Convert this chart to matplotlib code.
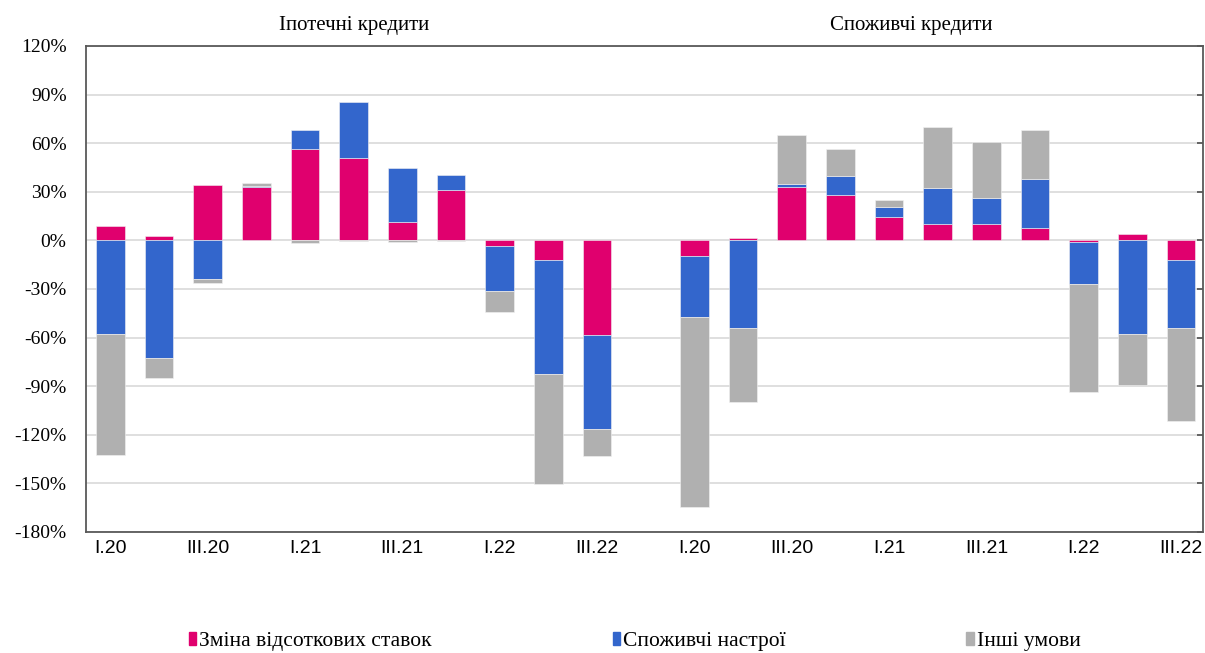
import matplotlib
matplotlib.use("Agg")
import matplotlib.pyplot as plt
from matplotlib.patches import Patch
import numpy as np

plt.rcParams['font.family'] = ['Liberation Serif', 'DejaVu Serif']

quarters = ['I.20', 'II.20', 'III.20', 'IV.20', 'I.21', 'II.21', 'III.21', 'IV.21',
            'I.22', 'II.22', 'III.22']
panel_titles = ['Іпотечні кредити', 'Споживчі кредити']
series_names = ['Зміна відсоткових ставок', 'Споживчі настрої', 'Інші умови']
colors = ['#E0006E', '#3366CC', '#B0B0B0']

# mortgage loans, %
mortgage_rate = [9.0, 3.0, 34.0, 32.7, 56.2, 50.7, 11.5, 30.9, -3.7, -11.9, -58.5]
mortgage_mood = [-57.9, -72.4, -23.9, 1.0, 11.9, 35.0, 33.3, 9.6, -27.8, -70.3, -58.1]
mortgage_other = [-74.4, -12.7, -2.7, 2.0, -1.8, -0.6, -1.0, -0.4, -12.7, -68.0, -16.5]

# consumer loans, %
consumer_rate = [-9.6, 1.6, 32.7, 27.8, 14.3, 10.2, 10.2, 7.8, -1.2, 4.1, -11.9]
consumer_mood = [-37.6, -54.0, 2.3, 12.1, 6.6, 21.9, 15.8, 29.8, -25.8, -57.9, -42.1]
consumer_other = [-117.6, -46.0, 30.0, 16.3, 4.0, 37.8, 34.9, 30.5, -66.7, -31.5, -57.7]

n = len(quarters)
x_left = np.arange(n)
x_right = np.arange(n) + n + 1          # one empty slot between the two groups

fig = plt.figure(figsize=(12.05, 6.53), dpi=100)
ax = fig.add_axes([86 / 1205, 1 - 532 / 653, (1203 - 86) / 1205, (532 - 46) / 653])

def stacked(xpos, groups):
    """Draw stacked bars, positives upward and negatives downward"""
    pos_base = np.zeros(len(xpos))
    neg_base = np.zeros(len(xpos))
    for vals, c in zip(groups, colors):
        v = np.array(vals)
        bottom = np.where(v >= 0, pos_base, neg_base)
        ax.bar(xpos, v, bottom=bottom, width=0.59, color=c,
               edgecolor='#f2f2f2', linewidth=0.4, zorder=3)
        pos_base += np.clip(v, 0, None)
        neg_base += np.clip(v, None, 0)

stacked(x_left, [mortgage_rate, mortgage_mood, mortgage_other])
stacked(x_right, [consumer_rate, consumer_mood, consumer_other])

ax.set_xlim(-0.5, 22.45)
ax.set_ylim(-180, 120)
ax.set_yticks(np.arange(-180, 121, 30))
ax.set_yticklabels(['%d%%' % t for t in np.arange(-180, 121, 30)], fontsize=14)
ax.yaxis.grid(True, color='#d9d9d9', linewidth=1.2, zorder=0)
ax.set_axisbelow(True)
ax.tick_params(axis='y', left=False, right=True, labelleft=True, labelright=False,
               direction='in', length=4, width=1.3, color='#595959', pad=14)

xt = list(x_left[::2]) + list(x_right[::2])
xl = quarters[::2] + quarters[::2]
ax.set_xticks(xt)
ax.set_xticklabels(xl, fontsize=14, family=['Liberation Sans Narrow', 'Liberation Sans'])
ax.tick_params(axis='x', length=0, pad=6)

for s in ax.spines.values():
    s.set_color('#595959')
    s.set_linewidth(1.3)

ax.text(5.0, 1.043, panel_titles[0], transform=ax.get_xaxis_transform(),
        ha='center', va='center', fontsize=15)
ax.text(16.45, 1.043, panel_titles[1], transform=ax.get_xaxis_transform(),
        ha='center', va='center', fontsize=15)

handles = [Patch(color=c) for c in colors]
fig.legend(handles, series_names, loc='center left', bbox_to_anchor=(178 / 1205, 0.018),
           ncol=3, frameon=False, fontsize=15.5, handlelength=0.33, handleheight=0.55,
           handletextpad=0.15, columnspacing=8.4, borderpad=0)

fig.savefig('out.png', dpi=100)
